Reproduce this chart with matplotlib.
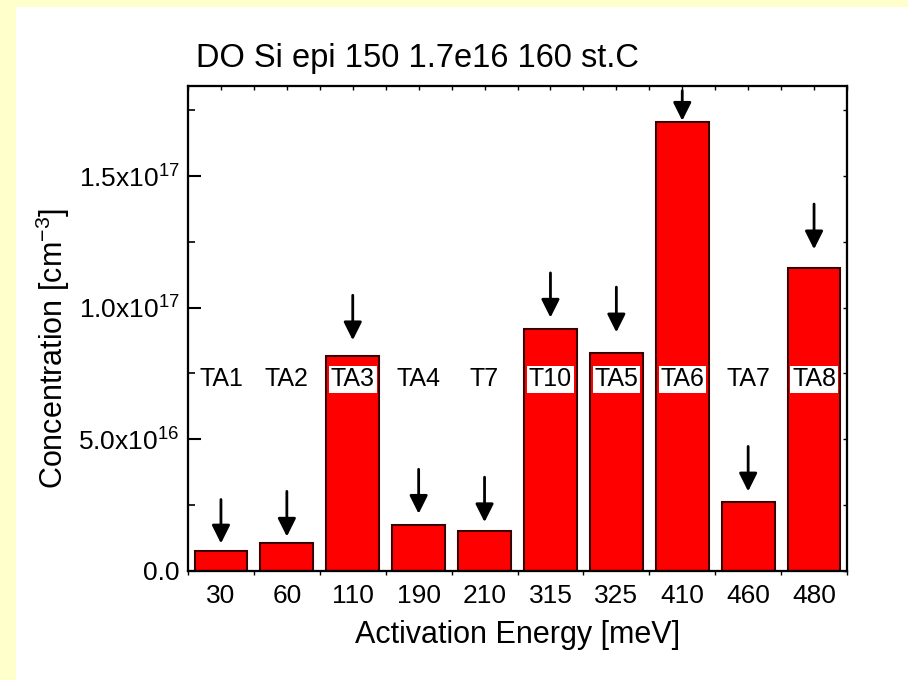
import matplotlib
matplotlib.use("Agg")
import matplotlib.pyplot as plt
from matplotlib.patches import Rectangle
from matplotlib.ticker import FixedLocator, MultipleLocator

plt.rcParams['font.family'] = ['Liberation Sans', 'DejaVu Sans']
plt.rcParams['mathtext.fontset'] = 'custom'
plt.rcParams['mathtext.rm'] = 'Liberation Sans'
plt.rcParams['mathtext.it'] = 'Liberation Sans:italic'

energies = ['30', '60', '110', '190', '210', '315', '325', '410', '460', '480']
concentrations = [7.6e15, 1.04e16, 8.15e16, 1.72e16, 1.51e16, 9.2e16, 8.27e16, 1.707e17, 2.59e16, 1.151e17]
trap_names = ['TA1', 'TA2', 'TA3', 'TA4', 'T7', 'T10', 'TA5', 'TA6', 'TA7', 'TA8']
arrow_tips = [1.03e16, 1.29e16, 8.76e16, 2.16e16, 1.84e16, 9.62e16, 9.06e16, 1.711e17, 3.01e16, 1.222e17]
arrow_tails = [2.70e16, 3.01e16, 1.047e17, 3.85e16, 3.55e16, 1.132e17, 1.078e17, 1.825e17, 4.72e16, 1.394e17]
label_level = 7.27e16
ytick_vals = [0.0, 5e16, 1e17, 1.5e17]
ytick_labels = ['0.0', r'5.0x10$^{16}$', r'1.0x10$^{17}$', r'1.5x10$^{17}$']

W, H = 908, 680
fig = plt.figure(figsize=(W / 100, H / 100), dpi=100, facecolor='#FFFFCC')
fig.patches.append(Rectangle((16 / W, 0), 1 - 16 / W, 1 - 7 / H, transform=fig.transFigure,
                             facecolor='white', edgecolor='none', zorder=-10))

ax = fig.add_axes([188 / W, 1 - 570.5 / H, (847 - 188) / W, (570.5 - 86) / H])
ax.set_zorder(5)
x = list(range(len(energies)))
ax.bar(x, concentrations, width=0.8, color='#FF0000', edgecolor='#3a0000', linewidth=1.5, zorder=2)

for i in x:
    ax.annotate('', xy=(i, arrow_tips[i]), xytext=(i, arrow_tails[i]),
                arrowprops=dict(arrowstyle='-|>,head_length=1.1,head_width=0.55', color='black',
                                lw=2, shrinkA=0, shrinkB=0), zorder=4, annotation_clip=False)
    ax.text(i, label_level, trap_names[i], ha='center', va='center', fontsize=18,
            bbox=dict(facecolor='white', edgecolor='none', pad=1.2), zorder=5)

ax.set_xlim(-0.5, 9.5)
ax.set_ylim(0, 1.843e17)
ax.set_xticks(x)
ax.set_xticklabels(energies, fontsize=19)
ax.xaxis.set_minor_locator(FixedLocator([i + 0.5 for i in range(-1, 10)]))
ax.set_yticks(ytick_vals)
ax.set_yticklabels(ytick_labels, fontsize=19)
ax.yaxis.set_minor_locator(MultipleLocator(2.5e16))

ax.tick_params(axis='x', which='major', direction='in', length=9, width=1.5, pad=10, top=False)
ax.tick_params(axis='x', which='minor', direction='out', length=3, width=1, top=False)
ax.tick_params(axis='y', which='major', direction='in', length=9, width=1.5, pad=6, right=False)
ax.tick_params(axis='y', which='minor', direction='in', length=5, width=1.2, right=False)

axt = ax.twiny()
axt.set_xlim(ax.get_xlim())
axt.set_xticks([i * 0.5 - 0.5 for i in range(21)])
axt.tick_params(axis='x', direction='in', length=3, width=1, labeltop=False, top=True, bottom=False)
axr = ax.twinx()
axr.set_ylim(ax.get_ylim())
axr.set_yticks([k * 2.5e16 for k in range(8)])
axr.tick_params(axis='y', direction='in', length=3, width=1, labelright=False, right=True, left=False)
for a in (ax, axt, axr):
    for s in a.spines.values():
        s.set_linewidth(1.5)

ax.set_xlabel('Activation Energy [meV]', fontsize=22, labelpad=8)
ax.set_ylabel(r'Concentration [cm$^{-3}$]', fontsize=22)
ax.yaxis.set_label_coords(-0.1765, 0.459)
fig.text(196 / W, 1 - 59 / H, 'DO Si epi 150 1.7e16 160 st.C', fontsize=23.5, ha='left', va='center')

fig.savefig('out.png', dpi=100, facecolor=fig.get_facecolor())
